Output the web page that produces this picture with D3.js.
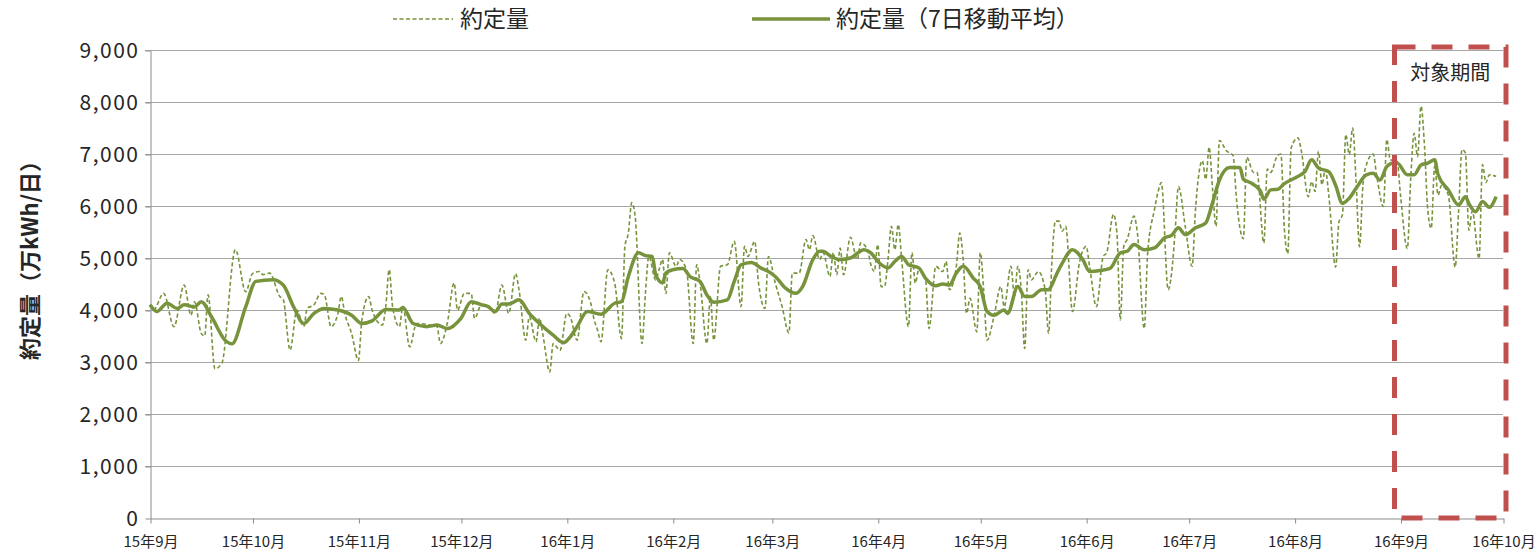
<!DOCTYPE html>
<html>
<head>
<meta charset="utf-8">
<script src="https://cdn.jsdelivr.net/npm/d3@7"></script>
<style>
  body { margin: 0; background: #fff; }
  svg text { font-family: "Noto Sans CJK JP", "Noto Sans", sans-serif; fill: #262626; }
</style>
</head>
<body>
<div id="chart"></div>
<script>
// day index counted from 2015-09-01
let dailyDays = [0,1,4,7,10,12,13,15,16,17,19,21,25,28,30,32,33,35,38,39,41,43,45,46,48,50,51,53,55,56,57,59,61,62,64,65,68,69,70,71,73,74,76,78,82,84,85,87,89,90,92,94,95,97,99,
  101,103,105,107,108,110,111,113,114,115,117,118,120,122,123,125,127,129,130,131,132,134,136,138,139,140,141,142,144,145,146,148,149,150,151,152,154,155,157,159,160,161,163,164,165,167,169,171,173,174,175,177,178,180,181,183,185,187,188,190,192,193,194,196,197,199,
  200,201,202,203,205,207,208,210,211,212,213,214,215,216,217,218,219,220,222,223,224,225,227,228,230,232,233,234,236,237,238,239,240,242,243,244,245,247,249,250,252,253,254,255,256,257,258,260,262,263,264,265,266,267,268,270,272,274,275,277,279,280,282,283,284,285,286,288,289,291,292,294,295,296,298,299,
  300,301,303,305,306,308,309,310,311,312,313,315,317,318,320,321,323,324,326,327,328,330,331,332,333,334,336,337,339,340,341,342,343,344,345,347,348,349,350,351,352,353,354,355,356,358,359,361,362,363,365,366,368,369,370,371,372,373,374,375,376,377,378,380,382,383,384,385,386,387,389,390,391,392,394]
let dailyVals = [4100,4000,4320,3680,4480,3900,4160,3550,3500,4290,2870,2970,5160,4350,4700,4740,4680,4710,4260,4200,3230,4000,3680,4030,4100,4320,4300,3680,3935,4260,3935,3550,3030,3800,4260,4000,3710,4065,4775,4065,3680,4065,3290,3740,3710,3680,3355,3740,4520,4000,4320,4320,3840,4100,4065,
  3935,4480,3935,4700,4390,3420,3870,3390,3840,3520,2810,3355,3225,3935,3870,3420,4355,4130,3810,3610,3390,4775,4520,3450,5225,5480,6065,5800,3355,4320,5030,4580,4775,4970,4320,5100,4840,4970,4775,3355,4870,4520,3355,4260,3420,4840,4870,5320,4065,5225,5030,5320,4580,4030,5030,4520,4065,3560,4710,4710,5355,5160,5430,4970,5100,4645,
  5100,4680,5190,4680,5400,4970,5290,5160,4870,4740,5260,4450,4450,4970,5610,5160,5645,4970,3680,5100,4520,4775,4580,3645,4840,4740,4935,4390,4840,5480,4970,3935,4225,3580,5100,4390,3420,3870,4450,4065,4840,4260,4840,4390,3260,4775,4580,4740,4390,3550,4970,5710,5710,5515,5610,3970,4900,5225,4840,4065,5030,5100,5840,5480,3810,5225,5355,5805,5480,3645,5100,5935,6260,6450,4390,4710,
  5480,6375,5610,4840,5935,6870,6515,7130,6320,5610,7260,7065,6970,6130,5370,6935,6645,6645,5290,6710,6645,6970,7000,5570,5085,7115,7310,7050,6180,6470,6280,7050,6410,6700,6210,4825,5700,5830,7375,6990,7500,6470,5215,6400,6790,7000,6600,5990,7280,6890,6860,6210,5180,6540,7400,6950,7920,7180,5900,5570,6770,6210,6400,6210,4825,5900,7085,7020,5535,5900,4990,6795,6450,6600,6570]

let avgDays = [0,2,5,8,10,13,15,18,22,24,28,31,36,39,42,45,48,51,55,59,62,65,69,73,74,77,81,84,87,91,94,97,99,
  101,103,105,108,111,114,118,121,123,125,128,132,136,138,140,143,145,147,148,150,151,153,156,158,161,163,165,169,171,173,176,179,181,183,186,189,191,194,196,197,199,
  202,205,209,211,213,216,218,220,222,225,227,230,232,234,236,238,241,243,245,247,250,251,254,256,258,261,263,264,265,267,270,273,275,278,281,284,286,288,291,294,297,299,
  301,303,306,309,311,313,316,319,320,322,325,326,328,330,332,336,338,340,342,345,347,349,351,353,356,358,360,362,364,365,368,370,372,374,376,377,380,383,385,386,388,390,392,394]
let avgVals = [4100,3970,4130,4030,4100,4060,4160,3870,3420,3350,4060,4550,4580,4480,4065,3740,3935,4030,4000,3900,3740,3790,4010,4000,4050,3740,3680,3710,3645,3840,4160,4100,4065,
  3970,4115,4115,4195,3935,3740,3515,3370,3485,3680,3970,3920,4130,4160,4645,5100,5045,5030,4680,4520,4710,4775,4800,4645,4550,4290,4150,4195,4550,4870,4915,4800,4740,4645,4420,4320,4450,4970,5130,5130,5045,
  4970,5000,5160,5100,4935,4810,4935,5030,4870,4810,4610,4465,4500,4480,4710,4840,4610,4450,3970,3900,4000,3935,4450,4260,4260,4390,4390,4485,4640,4900,5160,4970,4740,4760,4800,5100,5130,5260,5160,5195,5390,5435,
  5580,5450,5580,5675,6065,6500,6740,6740,6515,6450,6290,6130,6310,6320,6430,6570,6660,6890,6730,6660,6400,6050,6150,6340,6600,6630,6500,6760,6825,6825,6600,6600,6790,6825,6890,6600,6310,6020,6180,6050,5890,6085,5975,6180]

let yTicks = [0,1000,2000,3000,4000,5000,6000,7000,8000,9000]
let monthTicks = ['2015-09-01','2015-10-01','2015-11-01','2015-12-01','2016-01-01','2016-02-01','2016-03-01','2016-04-01','2016-05-01','2016-06-01','2016-07-01','2016-08-01','2016-09-01','2016-10-01']
let periodRange = ['2016-09-01','2016-10-01']

let width = 1537, height = 555
let margin = {left: 150, right: 34, top: 50, bottom: 37}
let green = '#77933C'

let start = new Date(Date.UTC(2015, 8, 1))
let toDate = n => d3.utcDay.offset(start, n)
let parse = d3.utcParse('%Y-%m-%d')

let svg = d3.select('#chart').append('svg')
  .attr('width', width)
  .attr('height', height)

let x = d3.scaleUtc()
  .domain([parse(monthTicks[0]), parse(monthTicks[monthTicks.length - 1])])
  .range([margin.left, width - margin.right])

let y = d3.scaleLinear()
  .domain([0, 9000])
  .range([height - margin.bottom, margin.top])

// grid
svg.append('g')
  .selectAll('line')
  .data(yTicks.slice(1))
  .enter().append('line')
  .attr('x1', margin.left - 5)
  .attr('x2', width - margin.right)
  .attr('y1', d => Math.round(y(d)) + 0.5)
  .attr('y2', d => Math.round(y(d)) + 0.5)
  .attr('stroke', '#a6a6a6')

let yAxis = svg.append('g')
  .attr('transform', 'translate(' + (margin.left + 0.5) + ',0.5)')
  .call(d3.axisLeft(y).tickValues(yTicks).tickFormat(d3.format(',')).tickSize(5).tickSizeOuter(0))
yAxis.selectAll('path, line').attr('stroke', '#8c8c8c')
yAxis.selectAll('text')
  .attr('font-size', '21px')
  .attr('letter-spacing', '1.5px')
  .attr('x', -11)
  .attr('fill', '#262626')

let xAxis = svg.append('g')
  .attr('transform', 'translate(0.5,' + (Math.round(y(0)) + 0.5) + ')')
  .call(d3.axisBottom(x).tickValues(monthTicks.map(parse)).tickFormat(d3.utcFormat('%y年%-m月')).tickSize(5).tickSizeOuter(0))
xAxis.selectAll('path, line').attr('stroke', '#8c8c8c')
xAxis.selectAll('text').attr('font-size', '15px').attr('y', 14).attr('dy', '0.95em').attr('fill', '#262626')

// lines
let dailyLine = d3.line()
  .x((d, i) => x(toDate(dailyDays[i])))
  .y(d => y(d))
  .curve(d3.curveMonotoneX)

let avgLine = d3.line()
  .x((d, i) => x(toDate(avgDays[i])))
  .y(d => y(d))
  .curve(d3.curveMonotoneX)

svg.append('path')
  .attr('d', dailyLine(dailyVals))
  .attr('fill', 'none')
  .attr('stroke', green)
  .attr('stroke-width', 1.6)
  .attr('stroke-dasharray', '4,2.5')

svg.append('path')
  .attr('d', avgLine(avgVals))
  .attr('fill', 'none')
  .attr('stroke', green)
  .attr('stroke-width', 3.5)
  .attr('stroke-linejoin', 'round')

// target period box
let bx1 = x(parse(periodRange[0])) - 6, bx2 = x(parse(periodRange[1])) + 3
svg.append('rect')
  .attr('x', bx1)
  .attr('y', margin.top - 3)
  .attr('width', bx2 - bx1)
  .attr('height', y(0) - margin.top + 3)
  .attr('fill', 'none')
  .attr('stroke', '#C0504D')
  .attr('stroke-width', 5)
  .attr('stroke-dasharray', '21,16')

svg.append('text')
  .attr('x', (bx1 + bx2) / 2)
  .attr('y', 80)
  .attr('text-anchor', 'middle')
  .attr('font-size', '20px')
  .text('対象期間')

// y label
svg.append('text')
  .attr('transform', 'translate(38,255) rotate(-90)')
  .attr('text-anchor', 'middle')
  .attr('font-size', '22px')
  .attr('font-weight', 'bold')
  .text('約定量（万kWh/日）')

// legend
let legend = svg.append('g')
legend.append('line')
  .attr('x1', 393).attr('x2', 453).attr('y1', 19).attr('y2', 19)
  .attr('stroke', green).attr('stroke-width', 1.6).attr('stroke-dasharray', '4,2.5')
legend.append('text')
  .attr('x', 460).attr('y', 27).attr('font-size', '23px')
  .text('約定量')
legend.append('line')
  .attr('x1', 752).attr('x2', 830).attr('y1', 19).attr('y2', 19)
  .attr('stroke', green).attr('stroke-width', 3.5)
legend.append('text')
  .attr('x', 836).attr('y', 27).attr('font-size', '23px')
  .text('約定量（7日移動平均）')
</script>
</body>
</html>
